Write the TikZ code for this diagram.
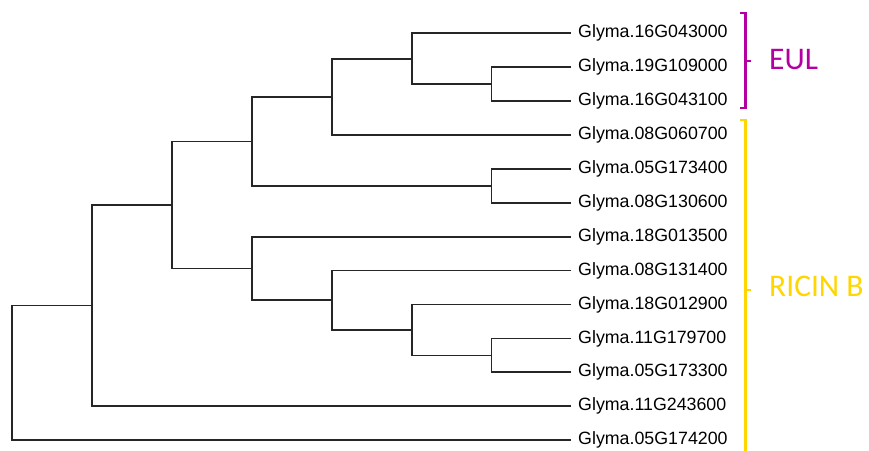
\documentclass[tikz,border=0pt]{standalone}
\usepackage{fontspec}
\setmainfont{Liberation Sans}
\newfontfamily\calibfont{Carlito}
\definecolor{eulc}{RGB}{180,0,160}
\definecolor{ricc}{RGB}{255,214,0}
\begin{document}
\begin{tikzpicture}[x=1pt,y=-1pt,
  tree/.style={line width=1.7pt, black!85},
  leaf/.style={anchor=west, inner xsep=7pt, inner ysep=0pt, font=\fontsize{17.8}{20}\selectfont},
  grp/.style={anchor=west, inner sep=0pt, font=\calibfont\fontsize{31.5}{36}\selectfont},
  brk/.style={line width=2.3pt}]
\useasboundingbox (0,0) rectangle (869,450);
% leaves
\foreach \i/\t in {0/16G043000,1/19G109000,2/16G043100,3/08G060700,4/05G173400,5/08G130600,6/18G013500,7/08G131400,8/18G012900,9/11G179700,10/05G173300,11/11G243600,12/05G174200}
  \node[leaf] (L\i) at (571,{33.3+33.9*\i}) {Glyma.\t};
% internal nodes
\coordinate (n1) at (491.5,84.15);
\coordinate (n2) at (411.7,58.7);
\coordinate (n3) at (331.7,96.9);
\coordinate (n4) at (491.5,185.9);
\coordinate (n5) at (251.7,141.4);
\coordinate (n6) at (491.5,355.35);
\coordinate (n7) at (411.7,329.9);
\coordinate (n8) at (331.7,300.3);
\coordinate (n9) at (251.7,268.5);
\coordinate (n10) at (171.7,205);
\coordinate (n11) at (91.7,305.6);
\coordinate (root) at (11.7,372.8);
% branches
\draw[tree] (L1.west) -| (n1) |- (L2.west);
\draw[tree] (L0.west) -| (n2) |- (n1);
\draw[tree] (n2) -| (n3) |- (L3.west);
\draw[tree] (L4.west) -| (n4) |- (L5.west);
\draw[tree] (n3) -| (n5) |- (n4);
\draw[tree] (L9.west) -| (n6) |- (L10.west);
\draw[tree] (L8.west) -| (n7) |- (n6);
\draw[tree] (L7.west) -| (n8) |- (n7);
\draw[tree] (L6.west) -| (n9) |- (n8);
\draw[tree] (n5) -| (n10) |- (n9);
\draw[tree] (n10) -| (n11) |- (L11.west);
\draw[tree] (n11) -| (root) |- (L12.west);
% brackets
\draw[brk, eulc] (740,13.3) -- (745.5,13.3) -- (745.5,107.7) -- (740,107.7);
\draw[brk, eulc] (745.5,61) -- (751,61);
\draw[brk, ricc] (740,120) -- (745.5,120) -- (745.5,452);
\draw[brk, ricc] (745.5,290) -- (751,290);
\node[grp, text=eulc] (eul) at (769,60) {EUL};
\node[grp, text=ricc] (ricin) at (769,286.7) {RICIN B};
\end{tikzpicture}
\end{document}
